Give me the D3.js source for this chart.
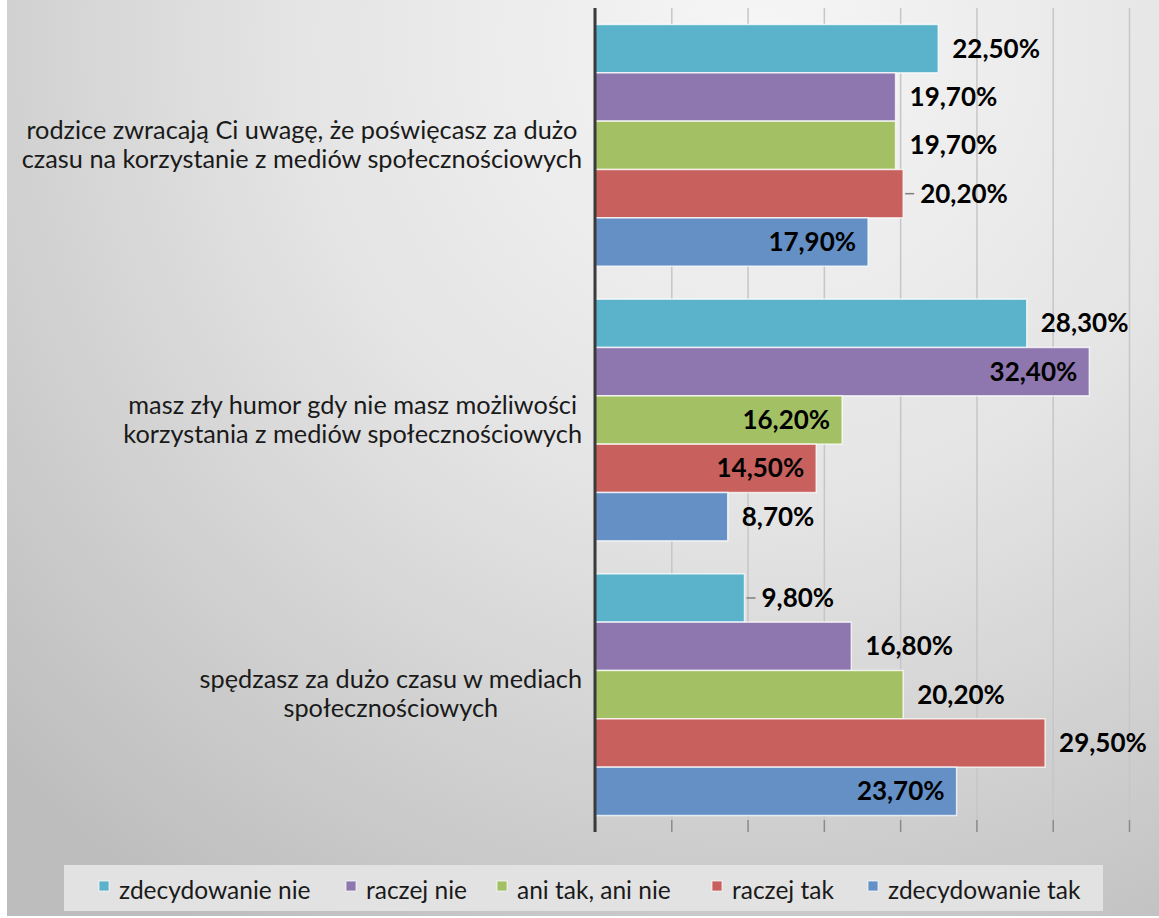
<!DOCTYPE html>
<html>
<head>
<meta charset="utf-8">
<script src="https://cdn.jsdelivr.net/npm/d3@7"></script>
<style>
  body { margin: 0; background: #fff; }
  svg { display: block; }
</style>
</head>
<body>
<script>
const FONT = "Lato, 'Liberation Sans', sans-serif";

// categories, top to bottom
const categories = [
  "rodzice zwracają Ci uwagę, że poświęcasz za dużo\nczasu na korzystanie z mediów społecznościowych",
  "masz zły humor gdy nie masz możliwości\nkorzystania z mediów społecznościowych",
  "spędzasz za dużo czasu w mediach\nspołecznościowych"
];

// series names (legend order = order inside each group)
const seriesNames = ["zdecydowanie nie", "raczej nie", "ani tak, ani nie", "raczej tak", "zdecydowanie tak"];

// values in %, one array per series, same order as categories
const zdecydowanieNie = [22.5, 28.3, 9.8];
const raczejNie = [19.7, 32.4, 16.8];
const aniTakAniNie = [19.7, 16.2, 20.2];
const raczejTak = [20.2, 14.5, 29.5];
const zdecydowanieTak = [17.9, 8.7, 23.7];

const xTicks = [0, 5, 10, 15, 20, 25, 30, 35];

// label placement as Excel left it ("in" = inside end, "out" = outside end, "lead" = outside with leader line)
const labelPlacement = [
  ["out", "out", "out", "lead", "in"],
  ["out", "in", "in", "in", "out"],
  ["lead", "out", "out", "out", "in"]
];

const colors = ["#5AB3CA", "#8E77AF", "#A3C164", "#C8605D", "#6490C6"];

const seriesValues = [zdecydowanieNie, raczejNie, aniTakAniNie, raczejTak, zdecydowanieTak];

const W = 1159, H = 918;

const svg = d3.select("body").append("svg")
  .attr("width", W)
  .attr("height", H)
  .attr("font-family", FONT);

// background gradient
const defs = svg.append("defs");
const grad = defs.append("radialGradient")
  .attr("id", "bg")
  .attr("gradientUnits", "userSpaceOnUse")
  .attr("cx", 760).attr("cy", 40).attr("r", 1050);
grad.append("stop").attr("offset", "0%").attr("stop-color", "#f6f6f6");
grad.append("stop").attr("offset", "45%").attr("stop-color", "#e4e4e4");
grad.append("stop").attr("offset", "100%").attr("stop-color", "#bdbdbd");

svg.append("rect")
  .attr("x", 7).attr("y", 0)
  .attr("width", W - 7).attr("height", H - 2)
  .attr("fill", "url(#bg)");

// scales
const x = d3.scaleLinear().domain([0, 35]).range([595, 1129]);
const y = d3.scaleBand().domain(d3.range(categories.length)).range([8, 832])
  .paddingInner(0.12).paddingOuter(0.06);
const ySub = d3.scaleBand().domain(d3.range(seriesNames.length)).range([0, y.bandwidth()]);

const plotBottom = 820;

// gridlines
svg.append("g")
  .attr("transform", "translate(0," + plotBottom + ")")
  .call(d3.axisBottom(x).tickValues(xTicks).tickSize(-(plotBottom - 8)).tickFormat(""))
  .call(g => g.select(".domain").remove())
  .call(g => g.selectAll("line").attr("stroke", "#c6c6c6").attr("stroke-width", 1.5));

// tick marks below plot
svg.append("g")
  .attr("transform", "translate(0," + plotBottom + ")")
  .call(d3.axisBottom(x).tickValues(xTicks).tickSize(12).tickFormat(""))
  .call(g => g.select(".domain").remove())
  .call(g => g.selectAll("line").attr("stroke", "#8a8a8a").attr("stroke-width", 1.5));

// bars
const rows = [];
categories.forEach((c, ci) => {
  seriesValues.forEach((vals, si) => {
    rows.push({ ci, si, v: vals[ci], place: labelPlacement[ci][si] });
  });
});

svg.append("g").selectAll("rect")
  .data(rows)
  .join("rect")
  .attr("x", x(0))
  .attr("y", d => y(d.ci) + ySub(d.si))
  .attr("width", d => x(d.v) - x(0))
  .attr("height", ySub.bandwidth())
  .attr("fill", d => colors[d.si])
  .attr("stroke", "rgba(255,255,255,0.75)")
  .attr("stroke-width", 1.5);

// vertical axis line
svg.append("line")
  .attr("x1", x(0)).attr("x2", x(0))
  .attr("y1", 8).attr("y2", 832)
  .attr("stroke", "#3a3a3a")
  .attr("stroke-width", 3);

// leader lines
svg.append("g").selectAll("line")
  .data(rows.filter(d => d.place === "lead"))
  .join("line")
  .attr("x1", d => x(d.v) + 2)
  .attr("x2", d => x(d.v) + 11)
  .attr("y1", d => y(d.ci) + ySub(d.si) + ySub.bandwidth() / 2)
  .attr("y2", d => y(d.ci) + ySub(d.si) + ySub.bandwidth() / 2)
  .attr("stroke", "#7f7f7f")
  .attr("stroke-width", 1.5);

// data labels
const fmt = v => v.toFixed(2).replace(".", ",") + "%";
svg.append("g").selectAll("text")
  .data(rows)
  .join("text")
  .attr("x", d => d.place === "in" ? x(d.v) - 12 : x(d.v) + (d.place === "lead" ? 17 : 14))
  .attr("y", d => y(d.ci) + ySub(d.si) + ySub.bandwidth() / 2 + 9)
  .attr("text-anchor", d => d.place === "in" ? "end" : "start")
  .attr("font-size", 26)
  .attr("font-weight", "bold")
  .attr("fill", "#000")
  .text(d => fmt(d.v));

// category labels: lines centered in a block, block right-aligned near the axis
const catG = svg.append("g");
categories.forEach((c, ci) => {
  const lines = c.split("\n");
  const t = catG.append("text")
    .attr("font-size", 25.3)
    .attr("fill", "#1a1a1a");
  const spans = lines.map(l => t.append("tspan").text(l));
  const widths = spans.map(s => s.node().getComputedTextLength());
  const blockW = d3.max(widths);
  const right = 582;
  const mid = right - blockW / 2;
  const cy = y(ci) + y.bandwidth() / 2 + 8;
  spans.forEach((s, i) => {
    s.attr("x", mid)
      .attr("y", cy + (i - (lines.length - 1) / 2) * 29)
      .attr("text-anchor", "middle");
  });
});

// legend
const legend = svg.append("g");
legend.append("rect")
  .attr("x", 64).attr("y", 865)
  .attr("width", 1039).attr("height", 46)
  .attr("fill", "#e2e2e2");

const legendX = [99, 346, 497, 712, 868];
seriesNames.forEach((name, i) => {
  legend.append("rect")
    .attr("x", legendX[i]).attr("y", 881)
    .attr("width", 10).attr("height", 10)
    .attr("fill", colors[i])
    .attr("stroke", "rgba(255,255,255,0.7)")
    .attr("stroke-width", 1);
  legend.append("text")
    .attr("x", legendX[i] + 20)
    .attr("y", 899)
    .attr("font-size", 24.5)
    .attr("fill", "#1a1a1a")
    .text(name);
});
</script>
</body>
</html>
